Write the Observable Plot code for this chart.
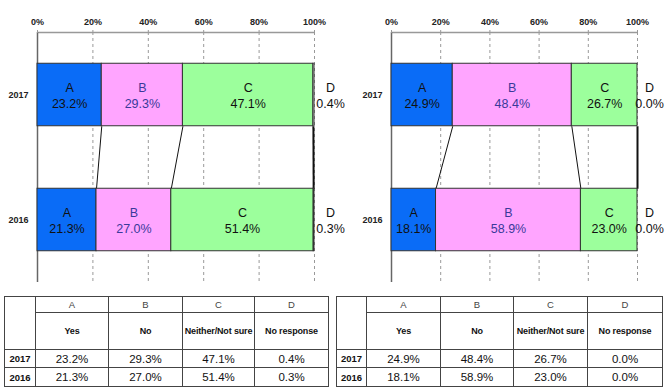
<!DOCTYPE html>
<html>
<head>
<meta charset="utf-8">
<script src="https://cdn.jsdelivr.net/npm/d3@7"></script>
<script src="https://cdn.jsdelivr.net/npm/@observablehq/plot@0.6"></script>
<style>
  html, body { margin: 0; padding: 0; background: #fff; }
  #root { position: relative; width: 670px; height: 391px; overflow: hidden; }
  .chart { position: absolute; top: 0; width: 335px; height: 290px; }
  .chart svg { overflow: visible; }
  table { position: absolute; top: 296px; border-collapse: collapse; table-layout: fixed;
          font-family: "Liberation Sans", Arial, sans-serif; color: #111; }
  td { border: 1px solid #444; padding: 0; text-align: center; vertical-align: middle; overflow: hidden; white-space: nowrap; }
  td.letter { height: 15px; font-size: 9.5px; color: #444; }
  td.lab { height: 36px; font-size: 9px; font-weight: bold; letter-spacing: -0.15px; }
  td.yr { font-size: 9.5px; font-weight: bold; }
  td.val { font-size: 11.5px; }
  tr.r1 td { height: 17px; }
  tr.r2 td { height: 18px; }
</style>
</head>
<body>
<div id="root">
  <div class="chart" id="left" style="left:0"></div>
  <div class="chart" id="right" style="left:335px"></div>
</div>
<script>
// ---- data ----
const years = ["2017", "2016"];
const categories = ["A", "B", "C", "D"];
const categoryLabels = ["Yes", "No", "Neither/Not sure", "No response"];
const xTicks = [0, 20, 40, 60, 80, 100];

const left2017 = [23.2, 29.3, 47.1, 0.4];
const left2016 = [21.3, 27.0, 51.4, 0.3];
const right2017 = [24.9, 48.4, 26.7, 0.0];
const right2016 = [18.1, 58.9, 23.0, 0.0];

const categoryColors = ["#0a6cf7", "#ffa5ff", "#9cff9c", "#ffffff"];
const font = '"Liberation Sans", Arial, sans-serif';

function buildRows(series) {
  const rows = [];
  series.forEach((vals, yi) => {
    let acc = 0;
    vals.forEach((v, ci) => {
      rows.push({year: years[yi], yi, cat: categories[ci], value: v,
                 x1: acc, x2: acc + v, mid: acc + v / 2,
                 y1: yi + 0.25, y2: yi + 0.75, yMid: yi + 0.5});
      acc += v;
    });
  });
  return rows;
}

function buildLinks(a, b) {
  const links = [];
  let ca = 0, cb = 0;
  for (let i = 0; i < a.length - 1; i++) {
    ca += a[i]; cb += b[i];
    links.push({x1: ca, x2: cb, y1: 0.75, y2: 1.25, last: i === a.length - 2});
  }
  return links;
}

function chart(v2017, v2016, marginLeft, marginRight, dDx) {
  const rows = buildRows([v2017, v2016]);
  const links = buildLinks(v2017, v2016);
  return Plot.plot({
    width: 335, height: 290,
    marginTop: 32, marginBottom: 8, marginLeft, marginRight,
    x: {domain: [0, 100]},
    y: {domain: [0, 2], reverse: true},
    color: {domain: categories, range: categoryColors},
    style: {fontFamily: font, background: "transparent", color: "#111", overflow: "visible"},
    marks: [
      Plot.gridX(xTicks, {stroke: "#999", strokeOpacity: 1, strokeDasharray: "3,3"}),
      Plot.ruleY([0], {stroke: "#999", strokeWidth: 1.5}),
      Plot.ruleX([0], {stroke: "#666", strokeWidth: 1.5}),
      Plot.axisX(xTicks, {anchor: "top", tickSize: 3, tickPadding: 5, stroke: "#999",
                          tickFormat: d => d + "%", fontSize: 9, fontWeight: "bold", fill: "#222", label: null}),
      Plot.axisY([0.5, 1.5], {tickSize: 0, tickPadding: 9, fontSize: 9, fontWeight: "bold", fill: "#222", label: null,
                              tickFormat: d => years[Math.floor(d)]}),
      Plot.link(links, {x1: "x1", y1: "y1", x2: "x2", y2: "y2", stroke: "#111",
                        strokeWidth: d => d.last ? 2 : 1}),
      Plot.rect(rows, {x1: "x1", x2: "x2", y1: "y1", y2: "y2", fill: "cat", stroke: "#333", strokeWidth: 1}),
      Plot.text(rows.filter(d => d.cat !== "D"), {x: "mid", y: "yMid",
        text: d => d.cat + "\n" + d.value.toFixed(1) + "%",
        fill: d => d.cat === "B" ? "#3a3a9a" : "#111", fontSize: 12.5, lineHeight: 1.3}),
      Plot.text(rows.filter(d => d.cat === "D"), {x: "x2", y: "yMid", dx: dDx,
        text: d => d.cat + "\n" + d.value.toFixed(1) + "%",
        fill: "#111", fontSize: 12.5, lineHeight: 1.3})
    ]
  });
}

document.getElementById("left").appendChild(chart(left2017, left2016, 37, 21, 16));
document.getElementById("right").appendChild(chart(right2017, right2016, 56, 33, 12));

function table(v2017, v2016, left, widths) {
  const t = document.createElement("table");
  t.style.left = left + "px";
  t.style.width = widths.reduce((a, b) => a + b, 0) + "px";
  const cg = document.createElement("colgroup");
  widths.forEach(w => { const c = document.createElement("col"); c.style.width = w + "px"; cg.appendChild(c); });
  t.appendChild(cg);
  let html = '<tr><td rowspan="2"></td>' + categories.map(c => `<td class="letter">${c}</td>`).join("") + "</tr>";
  html += "<tr>" + categoryLabels.map(c => `<td class="lab">${c}</td>`).join("") + "</tr>";
  [v2017, v2016].forEach((vals, i) => {
    html += `<tr class="r${i + 1}"><td class="yr">${years[i]}</td>` +
      vals.map(v => `<td class="val">${v.toFixed(1)}%</td>`).join("") + "</tr>";
  });
  t.insertAdjacentHTML("beforeend", html);
  document.getElementById("root").appendChild(t);
}
table(left2017, left2016, 4, [31, 73, 74, 72, 74]);
table(right2017, right2016, 336, [30, 74, 73, 74, 75]);
</script>
</body>
</html>
